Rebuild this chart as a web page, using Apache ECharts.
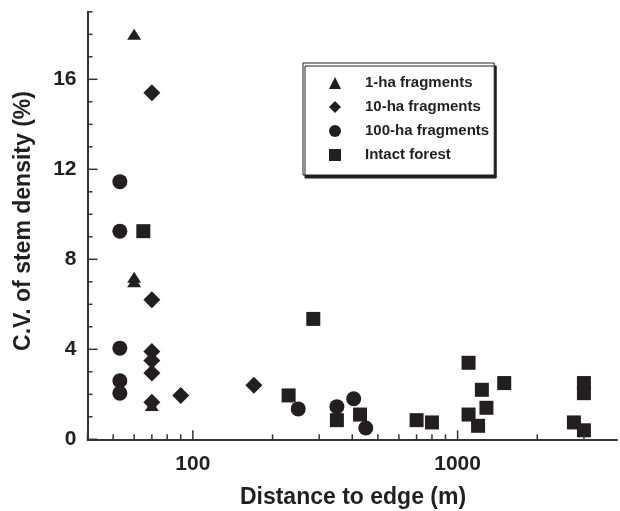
<!DOCTYPE html>
<html><head><meta charset="utf-8">
<script src="https://cdn.jsdelivr.net/npm/echarts@6/dist/echarts.min.js"></script>
<style>html,body{margin:0;padding:0;background:#fff}#c{width:620px;height:511px}</style>
</head><body><div id="c"></div>
<script>
const seriesNames = ['1-ha fragments', '10-ha fragments', '100-ha fragments', 'Intact forest'];
const oneHa = [[60, 18.0], [60, 7.2], [60, 7.0], [70, 1.5]];
const tenHa = [[70, 15.4], [70, 6.2], [70, 3.9], [70, 3.5], [70, 2.95], [70, 1.65], [90, 1.95], [170, 2.4]];
const hundredHa = [[53, 11.45], [53, 9.25], [53, 4.05], [53, 2.6], [53, 2.05], [250, 1.35], [350, 1.45], [405, 1.8], [450, 0.5]];
const intact = [[65, 9.25], [230, 1.95], [285, 5.35], [350, 0.85], [428, 1.1], [700, 0.85], [800, 0.75], [1100, 3.4], [1100, 1.1], [1235, 2.2], [1285, 1.4], [1195, 0.6], [1500, 2.5], [2750, 0.75], [3000, 2.5], [3000, 2.05], [3000, 0.4]];
const xLabelValues = [100, 1000];
const xMinorTicks = [40, 50, 60, 70, 80, 90, 200, 300, 400, 500, 600, 700, 800, 900, 2000, 3000];
const yLabelValues = [0, 4, 8, 12, 16];
const yMinorTicks = [1, 2, 3, 5, 6, 7, 9, 10, 11, 13, 14, 15, 17, 18, 19];
const xTitle = 'Distance to edge (m)';
const yTitle = 'C.V. of stem density (%)';

const INK = '#231f20';
const AX = '#333333';
const FONT = '"Liberation Sans", Arial, Helvetica, sans-serif';
const X_MIN = 40, X_MAX = 4000, Y_MIN = 0, Y_MAX = 19;

function tickSeries(values, axis, len) {
  return {
    type: 'custom', silent: true, clip: false, z: 5,
    data: values.map(v => axis === 'x' ? [v, Y_MIN] : [X_MIN, v]),
    renderItem: (params, api) => {
      const p = api.coord([api.value(0), api.value(1)]);
      const shape = axis === 'x'
        ? { x1: p[0], y1: p[1], x2: p[0], y2: p[1] - len }
        : { x1: p[0], y1: p[1], x2: p[0] + len, y2: p[1] };
      return { type: 'line', shape: shape, style: { stroke: AX, lineWidth: 1.5 } };
    }
  };
}

function scatter(name, data, symbol, size) {
  return {
    name: name, type: 'scatter', data: data, symbol: symbol, symbolSize: size,
    itemStyle: { color: INK, opacity: 1 }, z: 3
  };
}

const chart = echarts.init(document.getElementById('c'), null, { renderer: 'canvas' });
chart.setOption({
  animation: false,
  backgroundColor: '#ffffff',
  grid: { left: 87.5, top: 11.8, width: 536, height: 427.5, containLabel: false },
  xAxis: {
    type: 'log', logBase: 10, min: X_MIN, max: X_MAX,
    axisLine: { show: true, onZero: false, lineStyle: { color: AX, width: 2 } },
    axisTick: { show: false }, minorTick: { show: false },
    splitLine: { show: false }, minorSplitLine: { show: false },
    axisLabel: {
      margin: 14, color: INK, fontSize: 21, fontWeight: 'bold', fontFamily: FONT,
      showMinLabel: true, showMaxLabel: true, hideOverlap: false,
      formatter: v => { const r = Math.round(v); return xLabelValues.includes(r) ? String(r) : ''; }
    }
  },
  yAxis: {
    type: 'value', min: Y_MIN, max: Y_MAX, interval: 4,
    axisLine: { show: true, onZero: false, lineStyle: { color: AX, width: 2 } },
    axisTick: { show: false }, splitLine: { show: false },
    axisLabel: {
      margin: 11, color: INK, fontSize: 21, fontWeight: 'bold', fontFamily: FONT,
      formatter: v => yLabelValues.includes(v) ? String(v) : ''
    }
  },
  legend: {
    data: seriesNames, orient: 'vertical', left: 303, top: 63,
    padding: [11, 5, 11, 26], itemGap: 6, itemWidth: 12, itemHeight: 12,
    backgroundColor: '#ffffff', borderColor: INK, borderWidth: 1, borderRadius: 0,
    shadowColor: INK, shadowBlur: 0, shadowOffsetX: 2, shadowOffsetY: 3,
    selectedMode: false,
    textStyle: { color: INK, fontSize: 15, fontWeight: 'bold', fontFamily: FONT, lineHeight: 18, padding: [0, 0, 0, 19] }
  },
  graphic: [
    { type: 'text', x: 353, y: 498, style: { text: xTitle, fill: INK, font: 'bold 23px ' + FONT, align: 'center', verticalAlign: 'middle', textAlign: 'center', textVerticalAlign: 'middle' } },
    { type: 'text', x: 24, y: 221, rotation: Math.PI / 2, style: { text: yTitle, fill: INK, font: 'bold 23px ' + FONT, align: 'center', verticalAlign: 'middle', textAlign: 'center', textVerticalAlign: 'middle' } }
  ],
  series: [
    scatter(seriesNames[0], oneHa, 'triangle', [14, 11]),
    scatter(seriesNames[1], tenHa, 'diamond', 17),
    scatter(seriesNames[2], hundredHa, 'circle', 15),
    scatter(seriesNames[3], intact, 'rect', 14),
    tickSeries(xLabelValues, 'x', 9),
    tickSeries(xMinorTicks, 'x', 5),
    tickSeries(yLabelValues, 'y', 10),
    tickSeries(yMinorTicks, 'y', 5)
  ]
});
</script></body></html>
